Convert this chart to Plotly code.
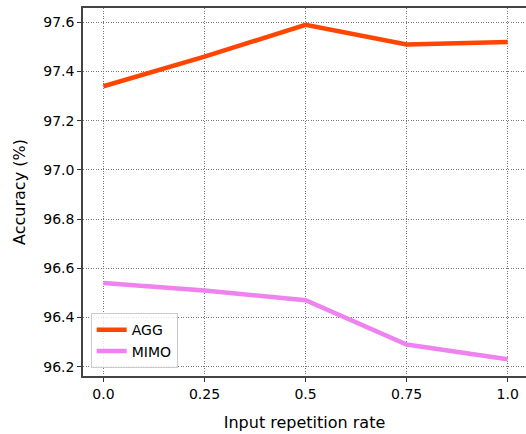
import plotly.graph_objects as go

rates = [0.0, 0.25, 0.5, 0.75, 1.0]
tick_text = ["0.0", "0.25", "0.5", "0.75", "1.0"]
agg = [97.34, 97.46, 97.59, 97.51, 97.52]
mimo = [96.54, 96.51, 96.47, 96.29, 96.23]
y_ticks = [96.2, 96.4, 96.6, 96.8, 97.0, 97.2, 97.4, 97.6]

fig = go.Figure()
fig.add_trace(go.Scatter(x=rates, y=agg, mode="lines", name="AGG",
                         line=dict(color="#FF4500", width=4.5)))
fig.add_trace(go.Scatter(x=rates, y=mimo, mode="lines", name="MIMO",
                         line=dict(color="#EE82EE", width=4.5)))

font = "DejaVu Sans, sans-serif"
grid = dict(showgrid=True, gridcolor="#777777", griddash="1px,1.5px", gridwidth=1)
fig.update_layout(
    width=526, height=434,
    margin=dict(l=83, r=0, t=8, b=58),
    paper_bgcolor="white", plot_bgcolor="white",
    font=dict(family=font, size=14, color="black"),
    hovermode=False,
    showlegend=True,
    legend=dict(x=0.0174, y=0.021, xanchor="left", yanchor="bottom",
                bgcolor="rgba(255,255,255,0.8)", bordercolor="#cccccc",
                borderwidth=1, font=dict(size=14), tracegroupgap=0,
                itemwidth=30),
    xaxis=dict(
        range=[-0.0507, 1.0453], tickvals=rates, ticktext=tick_text,
        showline=True, linecolor="#444444", linewidth=1.5, mirror=True,
        ticks="outside", ticklen=4, tickcolor="#333333",
        zeroline=False, **grid,
        title=dict(text="Input repetition rate", font=dict(size=16), standoff=16),
    ),
    yaxis=dict(
        range=[96.162, 97.658], tickvals=y_ticks, tickformat=".1f",
        showline=True, linecolor="#444444", linewidth=1.5, mirror=False,
        ticks="outside", ticklen=4, tickcolor="#333333",
        zeroline=False, **grid,
        title=dict(text="Accuracy (%)", font=dict(size=16), standoff=14),
    ),
)

fig.write_html(
    "out.html",
    config={"displayModeBar": False},
    post_script="document.body.style.margin='0';document.body.style.overflow='hidden';",
)
